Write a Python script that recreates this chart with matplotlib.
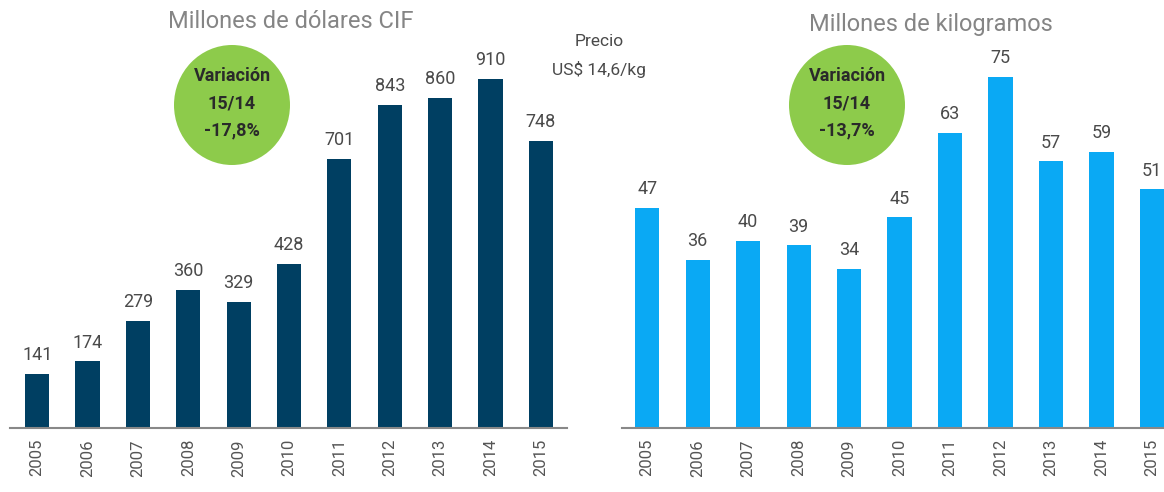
import matplotlib.pyplot as plt
from matplotlib.patches import Ellipse

plt.rcParams['font.family'] = ['Roboto', 'DejaVu Sans']

years = ['2005', '2006', '2007', '2008', '2009', '2010',
         '2011', '2012', '2013', '2014', '2015']
usd_cif = [141, 174, 279, 360, 329, 428, 701, 843, 860, 910, 748]
kilos = [47, 36, 40, 39, 34, 45, 63, 75, 57, 59, 51]

title_usd = 'Millones de dólares CIF'
title_kg = 'Millones de kilogramos'
var_usd = ['Variación', '15/14', '-17,8%']
var_kg = ['Variación', '15/14', '-13,7%']
precio = ['Precio', 'US$ 14,6/kg']

navy = '#003F62'
sky = '#0AA9F4'
green = '#8DCB4B'
grey_txt = '#4a4a4a'

W, H = 1164, 492
fig = plt.figure(figsize=(W / 100, H / 100), dpi=100)

def px_axes(x0, x1, y_base, y_top=0):
    # pixel box -> figure fraction
    return fig.add_axes([x0 / W, (H - y_base) / H, (x1 - x0) / W, (y_base - y_top) / H])

def draw_panel(ax, vals, color, xlim, ymax):
    x = list(range(len(vals)))
    ax.bar(x, vals, width=0.48, color=color, zorder=2)
    for xi, v in zip(x, vals):
        ax.annotate(str(v), (xi, v), xytext=(0, 7), textcoords='offset points',
                    ha='center', va='bottom', fontsize=13, color=grey_txt)
    ax.set_xlim(*xlim)
    ax.set_ylim(0, ymax)
    ax.set_xticks(x)
    ax.set_xticklabels(years, rotation=90, fontsize=12, color='#555555')
    ax.tick_params(axis='x', length=0, pad=8)
    ax.set_yticks([])
    for s in ['top', 'left', 'right']:
        ax.spines[s].set_visible(False)
    ax.spines['bottom'].set_color('#888888')
    ax.spines['bottom'].set_linewidth(1.5)
    ax.patch.set_alpha(0)

ax1 = px_axes(10, 567, 428)
draw_panel(ax1, usd_cif, navy, (-0.54, 10.52), 428 / 0.3836)

ax2 = px_axes(622, 1164, 428)
draw_panel(ax2, kilos, sky, (-0.5, 10.24), 428 / 4.68)

def fx(px):
    return px / W

def fy(py):
    return 1 - py / H

fig.text(fx(291), fy(22), title_usd, ha='center', va='center', fontsize=17,
         color='#858585')
fig.text(fx(931), fy(25), title_kg, ha='center', va='center', fontsize=17,
         color='#858585')

for cx, lines in [(232, var_usd), (847, var_kg)]:
    e = Ellipse((fx(cx), fy(105)), 116 / W, 120 / H, transform=fig.transFigure,
                facecolor=green, edgecolor='none', zorder=0)
    fig.patches.append(e)
    for i, t in enumerate(lines):
        fig.text(fx(cx), fy(76 + 27 * i), t, ha='center', va='center',
                 fontsize=13, fontweight='bold', color='#2a2a2a')

fig.text(fx(599), fy(42), precio[0], ha='center', va='center', fontsize=12.5, color=grey_txt)
fig.text(fx(599), fy(70), precio[1], ha='center', va='center', fontsize=12.5, color=grey_txt)

fig.savefig('out.png', dpi=100)
